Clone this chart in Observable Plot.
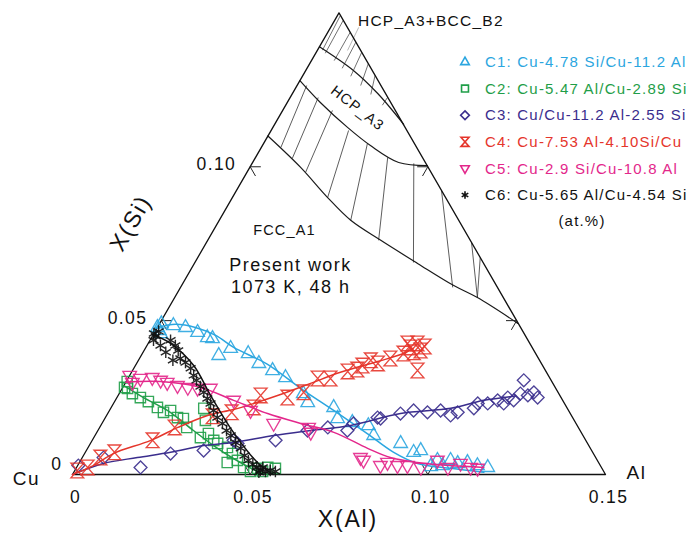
<!DOCTYPE html>
<html><head><meta charset="utf-8">
<script src="https://cdn.jsdelivr.net/npm/d3@7"></script>
<script src="https://cdn.jsdelivr.net/npm/@observablehq/plot@0.6"></script>
<style>
body{margin:0;background:#fff;}
#chart{position:relative;width:693px;height:537px;}
svg{font-family:"Liberation Sans",Arial,sans-serif;}
svg text{letter-spacing:0.08em;}
</style></head><body><div id="chart"></div>
<script>
// ---------- data: compositions as [X(Al), X(Si)] mole fractions ----------
const seriesNames = ["C1","C2","C3","C4","C5","C6"];
const legendLabels = [
  "C1: Cu-4.78 Si/Cu-11.2 Al",
  "C2: Cu-5.47 Al/Cu-2.89 Si",
  "C3: Cu/Cu-11.2 Al-2.55 Si",
  "C4: Cu-7.53 Al-4.10Si/Cu",
  "C5: Cu-2.9 Si/Cu-10.8 Al",
  "C6: Cu-5.65 Al/Cu-4.54 Si"
];
const seriesColors = ["#2ba6e0","#1f9e48","#3a2d8d","#e5352b","#e3278b","#111111"];

const c1Points = [[0.000,0.0478],[0.0005,0.0490],[0.0010,0.0468],[0.0019,0.0458],[0.0042,0.0484],[0.0079,0.0478],[0.0121,0.0462],[0.0157,0.0445],[0.0173,0.0442],[0.0218,0.0387],[0.0240,0.0410],[0.0298,0.0393],[0.0344,0.0361],[0.0394,0.0338],[0.0442,0.0315],[0.0518,0.0263],[0.0545,0.0234],[0.0626,0.0218],[0.0655,0.0182],[0.0703,0.0169],[0.0753,0.0159],[0.0784,0.0127],[0.0873,0.0101],[0.0924,0.0072],[0.0941,0.0078],[0.0995,0.0026],[0.1004,0.0046],[0.1027,0.0029],[0.1041,0.0046],[0.1066,0.0036],[0.1092,0.0039],[0.1125,0.0029],[0.1157,0.0023]];
const c1Path = [[0,0.0478],[0.0046,0.0488],[0.0107,0.0478],[0.0177,0.0452],[0.0247,0.0413],[0.0370,0.0358],[0.0502,0.0280],[0.0631,0.0208],[0.0763,0.0133],[0.0868,0.0072],[0.0953,0.0036],[0.1054,0.0020],[0.1154,0.0007]];

const c2Points = [[0.0005,0.0283],[0.0003,0.0302],[0.0015,0.0280],[0.0037,0.0263],[0.0066,0.0250],[0.0095,0.0237],[0.0130,0.0218],[0.0155,0.0202],[0.0172,0.0208],[0.0203,0.0185],[0.0221,0.0182],[0.0245,0.0153],[0.0262,0.0215],[0.0286,0.0176],[0.0300,0.0120],[0.0316,0.0133],[0.0342,0.0111],[0.0358,0.0101],[0.0392,0.0088],[0.0416,0.0068],[0.0416,0.0039],[0.0441,0.0046],[0.0470,0.0023],[0.0496,0.0010],[0.0511,0.0020],[0.0530,0.0010],[0.0538,0.0023],[0.0561,0.0020]];
const c2Path = [[0,0.0289],[0.0075,0.0250],[0.0163,0.0208],[0.0269,0.0143],[0.0350,0.0094],[0.0427,0.0052],[0.0516,0.0010],[0.0547,0]];

const c3Points = [[0.0002,0.0029],[0.0060,0.0055],[0.0180,0.0023],[0.0242,0.0068],[0.0330,0.0078],[0.0398,0.0111],[0.0414,0.0101],[0.0516,0.0111],[0.0590,0.0143],[0.0642,0.0153],[0.0702,0.0143],[0.0708,0.0166],[0.0766,0.0185],[0.0776,0.0182],[0.0824,0.0198],[0.0856,0.0208],[0.0898,0.0202],[0.0932,0.0208],[0.0968,0.0192],[0.0983,0.0202],[0.1022,0.0215],[0.1025,0.0231],[0.1053,0.0231],[0.1076,0.0241],[0.1098,0.0231],[0.1100,0.0250],[0.1121,0.0241],[0.1129,0.0263],[0.1117,0.0306],[0.1153,0.0257],[0.1165,0.0267],[0.1184,0.0250]];
const c3Path = [[0,0],[0.0069,0.0036],[0.0155,0.0055],[0.0240,0.0072],[0.0322,0.0094],[0.0401,0.0104],[0.0503,0.0127],[0.0598,0.0143],[0.0703,0.0159],[0.0824,0.0198],[0.0957,0.0215],[0.1037,0.0241],[0.1120,0.0255]];

const c4Points = [[0.0007,0.0013],[0.0031,0.0023],[0.0051,0.0055],[0.0082,0.0072],[0.0170,0.0111],[0.0211,0.0153],[0.0300,0.0189],[0.0347,0.0202],[0.0401,0.0218],[0.0401,0.0257],[0.0480,0.0250],[0.0517,0.0267],[0.0534,0.0312],[0.0570,0.0312],[0.0607,0.0335],[0.0631,0.0341],[0.0639,0.0354],[0.0654,0.0371],[0.0679,0.0361],[0.0706,0.0377],[0.0735,0.0393],[0.0745,0.0413],[0.0758,0.0426],[0.0730,0.0426],[0.0778,0.0403],[0.0802,0.0338],[0.0762,0.0397],[0.0783,0.0416]];
const c4Path = [[0,0],[0.0044,0.0029],[0.0081,0.0068],[0.0165,0.0111],[0.0220,0.0153],[0.0284,0.0192],[0.0347,0.0211],[0.0395,0.0231],[0.0462,0.0263],[0.0522,0.0296],[0.0588,0.0332],[0.0675,0.0367],[0.0735,0.0393],[0.0753,0.0410]];

const c5Points = [[0.0000,0.0322],[0.0019,0.0299],[0.0035,0.0312],[0.0067,0.0315],[0.0095,0.0306],[0.0117,0.0299],[0.0151,0.0289],[0.0183,0.0283],[0.0212,0.0280],[0.0248,0.0280],[0.0333,0.0241],[0.0397,0.0208],[0.0483,0.0166],[0.0588,0.0153],[0.0602,0.0137],[0.0783,0.0055],[0.0796,0.0046],[0.0852,0.0029],[0.0867,0.0039],[0.0900,0.0029],[0.0928,0.0029],[0.0969,0.0023],[0.1004,0.0046],[0.1045,0.0023],[0.1074,0.0036],[0.1109,0.0023],[0.1130,0.0020]];
const c5Path = [[0,0.0300],[0.0097,0.0302],[0.0219,0.0283],[0.0333,0.0241],[0.0450,0.0198],[0.0559,0.0166],[0.0667,0.0137],[0.0788,0.0085],[0.0867,0.0055],[0.0951,0.0039],[0.1049,0.0029],[0.1146,0.0023]];

const c6Points = [[0.0000,0.0458],[0.0010,0.0449],[0.0010,0.0465],[0.0010,0.0436],[0.0038,0.0419],[0.0064,0.0397],[0.0058,0.0436],[0.0080,0.0419],[0.0096,0.0403],[0.0097,0.0371],[0.0115,0.0377],[0.0136,0.0364],[0.0160,0.0345],[0.0180,0.0322],[0.0196,0.0306],[0.0217,0.0286],[0.0236,0.0267],[0.0256,0.0247],[0.0273,0.0231],[0.0293,0.0208],[0.0315,0.0185],[0.0339,0.0166],[0.0362,0.0143],[0.0382,0.0127],[0.0407,0.0104],[0.0431,0.0085],[0.0453,0.0062],[0.0472,0.0046],[0.0491,0.0033],[0.0507,0.0023],[0.0522,0.0013],[0.0538,0.0010],[0.0550,0.0013],[0.0524,0.0023],[0.0521,0.0007],[0.0566,0.0010]];
const c6Path = [[0,0.0454],[0.0063,0.0426],[0.0164,0.0354],[0.0260,0.0257],[0.0370,0.0150],[0.0501,0.0039],[0.0565,0]];

// phase boundaries (1073 K isothermal section)
const hcpBccBoundary = [[0,0.139],[0.0134,0.1313],[0.0240,0.1238],[0.0363,0.1138]];
const hcpFccBoundary = [[0,0.128],[0.0093,0.1209],[0.0210,0.1128],[0.0304,0.1069],[0.0411,0.1014],[0.0497,0.1004]];
const fccBoundary = [[0,0.110],[0.0143,0.0998],[0.0268,0.0900],[0.0370,0.0826],[0.0487,0.0761],[0.0628,0.0686],[0.0766,0.0614],[0.0852,0.0575],[0.1008,0.0491]];
const fccTieLines = [
  [[0.0055,0.1063],[0.0027,0.1264]],[[0.0105,0.1027],[0.0079,0.1225]],[[0.0165,0.0982],[0.0140,0.1183]],
  [[0.0268,0.0900],[0.0218,0.1118]],[[0.0370,0.0826],[0.0292,0.1076]],[[0.0481,0.0761],[0.0372,0.1030]],
  [[0.0615,0.0689],[0.0455,0.1011]],[[0.0766,0.0608],[0.0577,0.0923]],[[0.0852,0.0575],[0.0746,0.0754]],
  [[0.0852,0.0575],[0.0795,0.0705]]
];
const bccTieLines = [
  [[0.0014,0.1379],[0.0008,0.1492]],[[0.0027,0.1369],[0.0024,0.1476]],[[0.0064,0.1345],[0.0063,0.1437]],
  [[0.0099,0.1320],[0.0095,0.1405]],[[0.0136,0.1294],[0.0128,0.1372]],[[0.0179,0.1264],[0.0165,0.1335]],
  [[0.0222,0.1235],[0.0203,0.1297]],[[0.0272,0.1200],[0.0274,0.1226]]
];
const leaderLine = [[[0.0079,0.1453],[0.0085,0.1378]]];

const tickValues = [0.05, 0.10];
const bottomTickLabels = ["0","0.05","0.10","0.15"];
const bottomTickAt = [0, 0.05, 0.10, 0.15];
const leftTickLabels = ["0.05","0.10"];
const regionLabels = [
  {text:"FCC_A1", al:0.0200, si:0.0793, size:14.5, rot:0},
  {text:"Present work", al:0.0274, si:0.0679, size:18, rot:0},
  {text:"1073 K, 48 h", al:0.0310, si:0.0608, size:18, rot:0},
  {text:"HCP_A3", al:0.0207, si:0.1190, size:14.5, rot:38}
];

// ---------- geometry ----------
const W = 693, H = 537, ox = 72, oy = 474, side = 533;
const k = side / 0.15;
const S3 = Math.sqrt(3) / 2;
const X = d => d[0] + d[1] / 2;
const Y = d => d[1] * S3;

const triUp = {draw(c, size){const s=Math.sqrt(size)*0.62; c.moveTo(0,-1.15*s); c.lineTo(s,0.6*s); c.lineTo(-s,0.6*s); c.closePath();}};
const triDown = {draw(c, size){const s=Math.sqrt(size)*0.62; c.moveTo(0,1.15*s); c.lineTo(s,-0.6*s); c.lineTo(-s,-0.6*s); c.closePath();}};
const hourglass = {draw(c, size){const s=Math.sqrt(size)*0.58; c.moveTo(-s,-1.15*s); c.lineTo(s,-1.15*s); c.lineTo(-s,1.15*s); c.lineTo(s,1.15*s); c.closePath();}};
const symbols = [triUp, d3.symbolSquare, d3.symbolDiamond2, hourglass, triDown, d3.symbolAsterisk];
const radii = [6.2, 5.8, 5.8, 6.2, 6.2, 5.4];
const pointSets = [c1Points, c2Points, c3Points, c4Points, c5Points, c6Points];
const pathSets = [c1Path, c2Path, c3Path, c4Path, c5Path, c6Path];

const frame = [[0,0],[0.15,0],[0,0.15],[0,0]];
const L = 0.003;
const ticks = [];
for (const t of tickValues) {
  ticks.push([[t,0],[t,L]], [[t,0],[t-L,L]]);             // bottom edge
  ticks.push([[0,t],[L,t]], [[0,t],[L,t-L]]);             // left edge
  ticks.push([[0.15-t,t],[0.15-t-L,t]], [[0.15-t,t],[0.15-t,t-L]]); // right edge
}
const link = (data, opts) => Plot.link(data, {x1:d=>X(d[0]), y1:d=>Y(d[0]), x2:d=>X(d[1]), y2:d=>Y(d[1]), ...opts});

const marks = [
  link(bccTieLines, {stroke:"#333", strokeWidth:0.7}),
  link(fccTieLines, {stroke:"#333", strokeWidth:0.8}),
  link(leaderLine, {stroke:"#999", strokeWidth:0.7}),
  Plot.line(hcpBccBoundary, {x:X, y:Y, stroke:"#1a1a1a", strokeWidth:1.2, curve:"catmull-rom"}),
  Plot.line(hcpFccBoundary, {x:X, y:Y, stroke:"#1a1a1a", strokeWidth:1.2, curve:"catmull-rom"}),
  Plot.line(fccBoundary, {x:X, y:Y, stroke:"#1a1a1a", strokeWidth:1.2, curve:"catmull-rom"}),
  Plot.line(frame, {x:X, y:Y, stroke:"#111", strokeWidth:1.3}),
  link(ticks, {stroke:"#222", strokeWidth:1})
];
pointSets.forEach((pts, i) => {
  marks.push(Plot.dot(pts, {x:X, y:Y, symbol:symbols[i], r:radii[i], stroke:seriesColors[i], fill:"none", strokeWidth:i === 5 ? 1.4 : 1.35, strokeOpacity:0.9}));
  marks.push(Plot.line(pathSets[i], {x:X, y:Y, stroke:seriesColors[i], strokeWidth:1.5, curve:"catmull-rom"}));
});
const textFont = "Liberation Sans, Arial, sans-serif";
marks.push(
  Plot.text(bottomTickLabels, {x:(d,i)=>bottomTickAt[i], y:0, dx:3, dy:23, fontSize:17.5, fill:"#111"}),
  Plot.text(leftTickLabels, {x:(d,i)=>X([0,tickValues[i]]), y:(d,i)=>Y([0,tickValues[i]]), dx:-14, dy:-2, textAnchor:"end", fontSize:17.5, fill:"#111"}),
  Plot.text(["0"], {x:0, y:0, dx:-10, dy:-10, textAnchor:"end", fontSize:17.5, fill:"#111"}),
  Plot.text(["Cu"], {x:0, y:0, dx:-46, dy:4, fontSize:19, fill:"#111"}),
  Plot.text(["Al"], {x:0.15, y:0, dx:31, dy:-2, fontSize:19, fill:"#111"}),
  Plot.text(["X(Al)"], {x:0.0775, y:0, dy:45, fontSize:23, fill:"#111"}),
  Plot.text(["X(Si)"], {x:X([0,0.07]), y:Y([0,0.07]), dx:-66, dy:-36, rotate:-60, fontSize:23, fill:"#111"}),
  Plot.text(["HCP_A3+BCC_B2"], {x:X([0,0.15]), y:Y([0,0.15]), dx:19, dy:8, textAnchor:"start", fontSize:15.5, fill:"#111"}),
  Plot.text(regionLabels, {x:d=>X([d.al,d.si]), y:d=>Y([d.al,d.si]), text:"text", fontSize:d=>d.size, rotate:d=>d.rot, fill:"#111"})
);

const svg = Plot.plot({
  width: W, height: H, margin: 0,
  x: {domain: [-ox / k, (W - ox) / k], range: [0, W], axis: null},
  y: {domain: [-(H - oy) / k, oy / k], range: [H, 0], axis: null},
  style: {fontFamily: textFont, background: "#fff"},
  marks
});
document.getElementById("chart").appendChild(svg);

// legend
const lg = d3.select(svg).append("g").attr("transform", "translate(465,62)")
  .attr("font-family", textFont).attr("font-size", 15);
seriesNames.forEach((n, i) => {
  const g = lg.append("g").attr("transform", `translate(0,${i * 26.6})`);
  g.append("path").attr("d", d3.symbol().type(symbols[i]).size(i === 5 ? 40 : 48)())
    .attr("fill", "none").attr("stroke", seriesColors[i]).attr("stroke-width", 1.6);
  g.append("text").attr("x", 20).attr("dy", "0.35em").attr("text-anchor", "start")
    .attr("fill", seriesColors[i]).text(legendLabels[i]);
});
lg.append("text").attr("x", 117).attr("y", 6 * 26.6 - 0.5).attr("dy", "0.35em").attr("text-anchor", "middle")
  .attr("fill", "#111").text("(at.%)");
</script></body></html>
